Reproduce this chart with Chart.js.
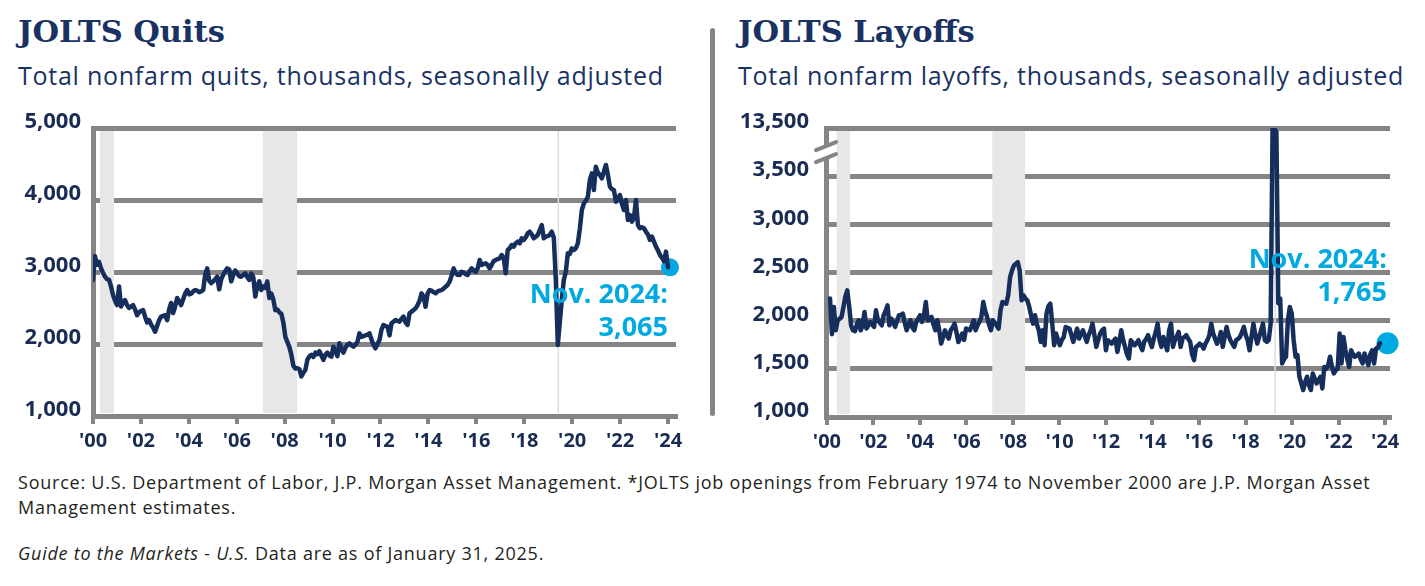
<!DOCTYPE html>
<html>
<head>
<meta charset="utf-8">
<script src="https://cdn.jsdelivr.net/npm/chart.js@4.4.1/dist/chart.umd.min.js"></script>
<style>
  body { margin: 0; width: 1425px; height: 586px; background: #fff; position: relative; overflow: hidden; font-family: "Open Sans", sans-serif; }
  .title { position: absolute; font-family: "DejaVu Serif", serif; font-weight: bold; font-size: 30.5px; line-height: 30px; color: #1a3263; white-space: nowrap; }
  .sub { position: absolute; font-size: 25px; line-height: 24px; letter-spacing: 0.75px; color: #1a3263; white-space: nowrap; }
  canvas { position: absolute; }
  .divider { position: absolute; left: 710px; top: 28px; width: 5px; height: 388px; background: #858585; border-radius: 3px; }
  .foot { position: absolute; left: 18px; font-size: 18px; line-height: 24.5px; letter-spacing: 0.76px; color: #231f20; white-space: nowrap; }
</style>
</head>
<body>
<div class="title" style="left:18px;top:16px">JOLTS Quits</div>
<div class="sub" style="left:18px;top:63px">Total nonfarm quits, thousands, seasonally adjusted</div>
<div class="title" style="left:738px;top:16px">JOLTS Layoffs</div>
<div class="sub" style="left:738px;top:63px">Total nonfarm layoffs, thousands, seasonally adjusted</div>
<div class="divider"></div>
<canvas id="quitsChart" width="700" height="360" style="left:0;top:100px"></canvas>
<canvas id="layoffsChart" width="710" height="360" style="left:715px;top:100px"></canvas>
<div class="foot" style="top:470px">Source: U.S. Department of Labor, J.P. Morgan Asset Management. *JOLTS job openings from February 1974 to November 2000 are J.P. Morgan Asset<br>Management estimates.</div>
<div class="foot" style="top:541px"><i>Guide to the Markets - U.S.</i> Data are as of January 31, 2025.</div>

<script>
// monthly, Dec 2000 .. Nov 2024 (index 0 = Dec 2000)
const xLabels = ["'00", "'02", "'04", "'06", "'08", "'10", "'12", "'14", "'16", "'18", "'20", "'22", "'24"];
const quitsTicks = [1000, 2000, 3000, 4000, 5000];
const layoffsTicks = [1000, 1500, 2000, 2500, 3000, 3500, 13500];
// recession shading, in month index
const recessions = [[3.5, 10.5], [84.7, 101.8], [231.9, 232.5]];
const lastLabel = "Nov. 2024:";

const quits = [
  2890, 3220, 3100, 3140, 3050, 2990, 2935, 2900, 2890, 2800, 2680, 2600,
  2540, 2800, 2520, 2580, 2610, 2540, 2500, 2520, 2540, 2480, 2400, 2440,
  2460, 2470, 2380, 2300, 2330, 2270, 2230, 2170, 2250, 2330, 2380, 2390,
  2400, 2330, 2480, 2570, 2430, 2520, 2640, 2590, 2540, 2620, 2700, 2750,
  2690, 2700, 2730, 2750, 2740, 2720, 2730, 2750, 2960, 3050, 2880, 2845,
  2870, 2900, 2935, 2760, 2900, 2960, 3010, 3050, 3035, 2870, 2960, 3020,
  2980, 2940, 2935, 2960, 2980, 2930, 2890, 2980, 2930, 2660, 2800, 2870,
  2750, 2800, 2780, 2870, 2640, 2700, 2620, 2470, 2480, 2440, 2420, 2300,
  2100, 2030, 1960, 1850, 1700, 1660, 1665, 1650, 1550, 1600, 1640, 1780,
  1830, 1850, 1820, 1880, 1860, 1900, 1840, 1780, 1850, 1880, 1840, 1824,
  1963, 1900, 1830, 2010, 1930, 1880, 1950, 1990, 2010, 1980, 1963, 1990,
  2030, 2148, 2100, 2110, 2120, 2130, 2148, 2060, 1990, 1940, 2000, 2055,
  2200, 2264, 2250, 2240, 2120, 2287, 2310, 2333, 2320, 2310, 2350, 2380,
  2300, 2264, 2426, 2450, 2470, 2495, 2540, 2600, 2704, 2657, 2518, 2700,
  2750, 2740, 2720, 2704, 2730, 2740, 2750, 2770, 2796, 2820, 2866, 2950,
  3050, 2982, 2960, 2958, 3004, 2990, 2970, 2958, 3010, 3050, 3020, 3004,
  3050, 3167, 3097, 3110, 3120, 3100, 3050, 3100, 3150, 3167, 3180, 3190,
  3236, 3200, 2982, 3306, 3330, 3375, 3352, 3400, 3421, 3398, 3468, 3445,
  3480, 3537, 3560, 3520, 3468, 3490, 3514, 3580, 3653, 3468, 3490, 3500,
  3514, 3560, 3480, 2900, 1986, 2300, 2611, 2889, 3000, 3259, 3250, 3329,
  3306, 3330, 3398, 3600, 3861, 3954, 3990, 4046, 4278, 4370, 4139, 4463,
  4380, 4347, 4300, 4393, 4486, 4350, 4185, 4150, 4139, 3977, 4020, 4069,
  3950, 3861, 4000, 3722, 3792, 3700, 3750, 4000, 3653, 3607, 3620, 3607,
  3560, 3520, 3445, 3491, 3420, 3352, 3300, 3236, 3200, 3150, 3283, 3065
];

const layoffs = [
  2230, 1860, 2142, 1900, 2004, 2020, 2038, 2140, 2250, 2314, 2150, 1950,
  1900, 1890, 1960, 2004, 1900, 1950, 2090, 1918, 1950, 1987, 1960, 1935,
  2107, 2004, 1980, 1952, 2056, 2100, 2159, 1952, 2021, 1980, 1935, 2000,
  2056, 2060, 2073, 1980, 1900, 1960, 2004, 1930, 1900, 1987, 2020, 2056,
  1987, 2050, 2194, 2004, 2020, 2038, 1960, 1900, 2004, 1900, 1762, 1830,
  1900, 1850, 1814, 1900, 1930, 1969, 1880, 1779, 1820, 1866, 1800, 1918,
  1910, 1900, 1950, 2004, 1900, 1952, 1990, 2038, 2194, 2100, 2038, 1960,
  1900, 2004, 1980, 1950, 1918, 2107, 2194, 2185, 2176, 2263, 2452, 2520,
  2573, 2590, 2607, 2521, 2211, 2263, 2230, 2211, 2142, 2050, 1969, 2056,
  1960, 1900, 1780, 1900, 1745, 2073, 2150, 2176, 1969, 1745, 1866, 1800,
  1745, 1800, 1831, 1935, 1925, 1918, 1850, 1780, 1850, 1918, 1814, 1860,
  1900, 1840, 1780, 1850, 1900, 1969, 1850, 1728, 1800, 1866, 1900, 1918,
  1693, 1797, 1780, 1762, 1790, 1814, 1676, 1780, 1900, 1800, 1728, 1650,
  1607, 1797, 1770, 1745, 1770, 1797, 1740, 1693, 1780, 1810, 1849, 1780,
  1728, 1814, 1880, 1969, 1800, 1728, 1831, 1760, 1693, 1900, 1969, 1728,
  1797, 1840, 1883, 1728, 1814, 1830, 1849, 1810, 1780, 1650, 1590, 1728,
  1740, 1762, 1745, 1710, 1762, 1797, 1849, 1969, 1866, 1814, 1762, 1800,
  1883, 1728, 1830, 1935, 1850, 1797, 1760, 1728, 1797, 1810, 1831, 1880,
  1935, 1850, 1797, 1693, 1830, 1969, 1850, 1762, 1830, 1900, 1969, 1797,
  1780, 1800, 1969, 13400, 13400, 12600, 2180, 2228, 1556, 1600, 1625, 2000,
  2142, 2073, 1800, 1625, 1641, 1418, 1350, 1280, 1360, 1418, 1330, 1280,
  1452, 1400, 1349, 1380, 1418, 1297, 1520, 1500, 1538, 1625, 1520, 1452,
  1487, 1500, 1866, 1556, 1831, 1700, 1600, 1520, 1693, 1650, 1625, 1640,
  1659, 1600, 1556, 1659, 1600, 1538, 1650, 1693, 1556, 1710, 1720, 1765
];

const NAVY = "#1a2c54";
const LINE = "#152e5c";
const GRID = "#858585";
const CYAN = "#00a9e0";

// layoffs axis is broken between 3,500 and 13,500
const BREAK_LO = 3500, BREAK_HI = 13500;
const squash = (v) => v <= BREAK_LO ? v : BREAK_LO + (v - BREAK_LO) * 500 / (BREAK_HI - BREAK_LO);
const same = (v) => v;

const bandsPlugin = {
  id: "bands",
  beforeDatasetsDraw(chart) {
    const { ctx, chartArea: a, scales: { x } } = chart;
    ctx.save();
    recessions.forEach(([s, e]) => {
      const x0 = x.getPixelForValue(s);
      const w = x.getPixelForValue(e) - x0;
      ctx.fillStyle = w < 4 ? "#dcdcdc" : "#e7e7e7";
      ctx.fillRect(x0, a.top + 3, Math.max(w, 1.5), a.bottom - a.top - 6);
    });
    ctx.restore();
  }
};

const calloutPlugin = {
  id: "callout",
  afterDatasetsDraw(chart, args, opts) {
    const { ctx, scales: { x, y } } = chart;
    const px = x.getPixelForValue(opts.x) + opts.dx;
    const py = y.getPixelForValue(opts.y);
    ctx.save();
    ctx.font = 'bold 27px "Open Sans"';
    ctx.fillStyle = CYAN;
    ctx.textAlign = "right";
    ctx.textBaseline = "alphabetic";
    opts.lines.forEach((t, k) => ctx.fillText(t, px, py + opts.dy + k * 33));
    ctx.restore();
  }
};

const breakPlugin = {
  id: "axisBreak",
  afterDraw(chart, args, opts) {
    if (!opts.at) return;
    const { ctx, chartArea: a, scales: { y } } = chart;
    const cx = a.left, cy = y.getPixelForValue(opts.at);
    ctx.save();
    ctx.fillStyle = "#fff";
    ctx.fillRect(cx - 4, cy - 6, 8, 12);
    ctx.strokeStyle = GRID;
    ctx.lineWidth = 4;
    ctx.lineCap = "round";
    [-6, 6].forEach((o) => {
      ctx.beginPath();
      ctx.moveTo(cx - 10, cy + o + 4);
      ctx.lineTo(cx + 10, cy + o - 4);
      ctx.stroke();
    });
    ctx.restore();
  }
};

function drawPanel(canvas, p) {
  const last = p.values.length - 1;
  new Chart(canvas, {
    type: "line",
    data: {
      datasets: [
        {
          data: p.values.map((v, i) => ({ x: i, y: p.map(v) })),
          borderColor: LINE,
          borderWidth: 4.5,
          borderJoinStyle: "round",
          borderCapStyle: "round",
          pointRadius: 0,
          tension: 0
        },
        {
          data: [{ x: p.dotX, y: p.map(p.values[last]) }],
          showLine: false,
          pointRadius: p.dotR,
          pointBackgroundColor: CYAN,
          pointBorderWidth: 0,
          clip: false
        }
      ]
    },
    options: {
      responsive: false,
      animation: false,
      events: [],
      layout: { padding: { top: 28, right: p.padRight, bottom: 0, left: 0 } },
      scales: {
        x: {
          type: "linear",
          min: p.xMin,
          max: p.xMax,
          afterBuildTicks: (s) => {
            s.ticks = xLabels.map((_, k) => ({ value: p.tickFirst + k * (p.tickLast - p.tickFirst) / (xLabels.length - 1) }));
          },
          afterFit: (s) => {
            s.height = p.xHeight;
            s.paddingLeft = 0; s.paddingRight = 0;
          },
          grid: { drawOnChartArea: false, tickLength: 8, color: GRID, lineWidth: 4 },
          border: { color: GRID, width: 5 },
          ticks: {
            autoSkip: false,
            maxRotation: 0,
            padding: 5,
            color: NAVY,
            font: { family: "Open Sans", weight: "bold", size: 20 },
            callback: (v, i) => xLabels[i]
          }
        },
        y: {
          min: p.map(p.ticks[0]),
          max: p.map(p.ticks[p.ticks.length - 1]),
          afterBuildTicks: (s) => {
            s.ticks = p.ticks.map((v) => ({ value: p.map(v) }));
          },
          afterFit: (s) => {
            s.width = p.yWidth;
            s.paddingTop = 0; s.paddingBottom = 0;
          },
          grid: { color: GRID, lineWidth: 5, drawTicks: false },
          border: { color: GRID, width: 5 },
          ticks: {
            padding: p.yPad,
            labelOffset: -6,
            color: NAVY,
            font: { family: "Open Sans", weight: "bold", size: 22 },
            callback: (v, i) => p.ticks[i].toLocaleString("en-US")
          }
        }
      },
      plugins: {
        legend: { display: false },
        tooltip: { enabled: false },
        callout: {
          x: last,
          y: p.map(p.values[last]),
          dx: p.calloutDx,
          dy: p.calloutDy,
          lines: [lastLabel, p.values[last].toLocaleString("en-US")]
        },
        axisBreak: { at: p.breakAt }
      }
    },
    plugins: [bandsPlugin, calloutPlugin, breakPlugin]
  });
}

document.addEventListener("DOMContentLoaded", () => {
  drawPanel(document.getElementById("quitsChart"), {
    values: quits, ticks: quitsTicks, map: same,
    xMin: 0, xMax: 291, tickFirst: 0, tickLast: 287,
    yWidth: 93, yPad: 12, xHeight: 44, padRight: 24,
    dotX: 288, dotR: 9, calloutDx: 0, calloutDy: 36, breakAt: null
  });
  drawPanel(document.getElementById("layoffsChart"), {
    values: layoffs, ticks: layoffsTicks, map: squash,
    xMin: -2.1, xMax: 292.3, tickFirst: -1.6, tickLast: 289.7,
    yWidth: 111, yPad: 17, xHeight: 43, padRight: 35,
    dotX: 291, dotR: 11, calloutDx: 7, calloutDy: -75, breakAt: 3750
  });
});
</script>
</body>
</html>
